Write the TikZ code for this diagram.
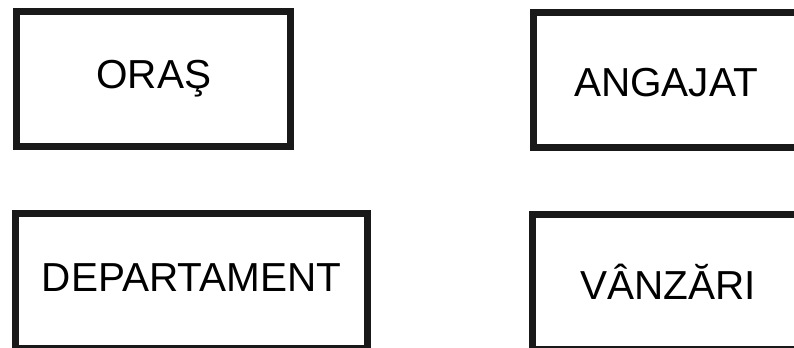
\documentclass[tikz,border=0pt]{standalone}
\usepackage{fontspec}
\setmainfont{Liberation Sans}
\usepackage{tikz}
\usetikzlibrary{positioning}

\begin{document}
\begin{tikzpicture}[x=0.5pt, y=-0.5pt,
    entity/.style={rectangle, draw=black!90, line width=3.5pt, fill=white, align=center,
        font=\fontsize{20.25}{24}\selectfont, text height=14.5pt, text depth=0pt,
        minimum height=67.4pt}
]

\path[use as bounding box, clip] (0,0) rectangle (794,348);

% Entities
\node[entity, minimum width=137pt, text depth=5pt] (oras) at (153.7,79) {ORAŞ};
\node[entity, minimum width=133pt, text height=16.4pt] (angajat) at (666,80) {ANGAJAT};
\node[entity, minimum width=175.6pt, minimum height=67.4pt, text depth=4pt] (departament) at (191.5,281) {DEPARTAMENT};
\node[entity, minimum width=136pt, minimum height=67.4pt, text height=17pt] (vanzari) at (668,282) {VÂNZĂRI};

\end{tikzpicture}
\end{document}
